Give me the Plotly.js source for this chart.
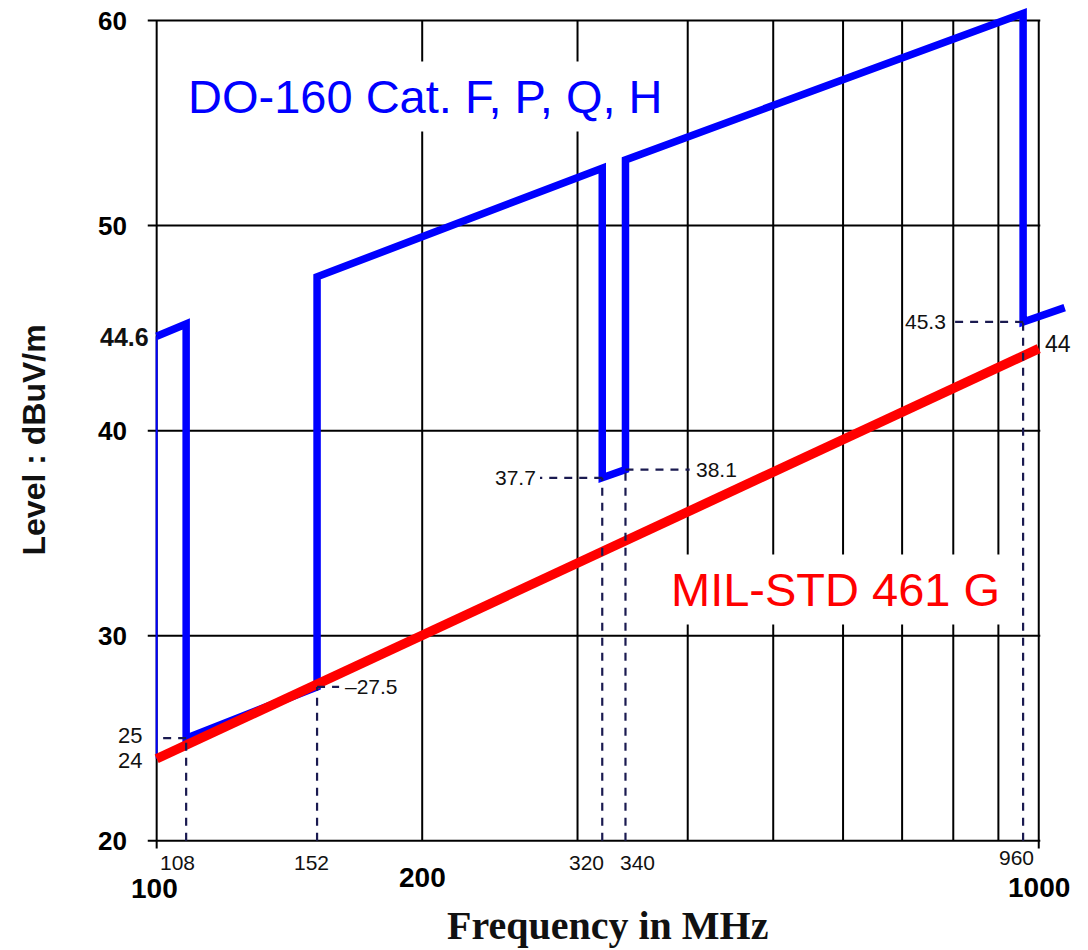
<!DOCTYPE html>
<html><head><meta charset="utf-8">
<script src="https://cdn.plot.ly/plotly-3.0.1.min.js"></script>
<style>html,body{margin:0;padding:0;background:#fff;}#chart{width:1088px;height:950px;}</style>
</head><body><div id="chart"></div>
<script>
// ---- data ----
const gridFreqs = [100, 200, 300, 400, 500, 600, 700, 800, 900, 1000];
const gridLevels = [20, 30, 40, 50, 60];
const blueFreq  = [100, 108, 108, 152, 152, 320, 320, 340, 340, 960, 960, 1070];
const blueLevel = [44.6, 45.2, 25, 27.5, 47.5, 52.8, 37.7, 38.1, 53.2, 60.35, 45.3, 46.0];
const redFreq  = [100, 1000];
const redLevel = [24, 44];
const markFreq  = [108, 152, 320, 340, 960];
const markLevel = [25, 27.5, 37.7, 38.1, 45.3];
const markLabelFreq = [100, 161, 272, 402, 793];
const markLabelText = ['', '–27.5', '37.7', '38.1', '45.3'];
const yTickVals = [20, 30, 40, 50, 60];
const yExtraVals = [44.6, 25, 24];
const yExtraText = ['44.6', '25', '24'];
const xBigVals = [100, 200, 1000];
const xSmallVals = [108, 152, 320, 340, 960];
const endLabelVal = 44;

// ---- label placement (pixels) ----
const xBigShift = [[-2, -47.5], [0, -36.5], [0, -46.5]];
const xSmallShift = [[-9, -21.5], [-6, -21.5], [-16, -21.5], [12, -21.5], [-7, -16.5]];
const yExtraShift = [[-6, -1, true], [-13, 3, false], [-13, -2, false]];

const FONT = 'Liberation Sans, Arial, sans-serif';
const L = Math.log10;

// grid & frame
const gx = [], gy = [];
gridFreqs.forEach((f, i) => {
  const ext = (i === 0 || i === gridFreqs.length - 1);
  gx.push(f, f, null); gy.push(ext ? 19.62 : 20, 60, null);
});
gridLevels.forEach(l => { gx.push(97.7, 1004, null); gy.push(l, l, null); });

// dashed guides
const dx = [], dy = [];
markFreq.forEach((f, i) => {
  dx.push(f, f, null); dy.push(20, markLevel[i], null);
  dx.push(f, markLabelFreq[i], null); dy.push(markLevel[i], markLevel[i], null);
});

const traces = [
  {x: gx, y: gy, mode: 'lines', line: {color: '#000', width: 2}, hoverinfo: 'skip'},
  {x: [blueFreq[0], blueFreq[0]], y: [blueLevel[0], redLevel[0]], mode: 'lines', line: {color: '#0000ff', width: 2}, hoverinfo: 'skip'},
  {x: blueFreq, y: blueLevel, mode: 'lines', line: {color: '#0000ff', width: 7.5}, name: 'DO-160'},
  {x: redFreq, y: redLevel, mode: 'lines', line: {color: '#ff0000', width: 9.5}, name: 'MIL-STD 461 G'},
  {x: dx, y: dy, mode: 'lines', line: {color: '#1a1a50', width: 2.2, dash: '8px,7px'}, hoverinfo: 'skip'}
];

const ann = [];
yTickVals.forEach(v => ann.push({xref: 'x', yref: 'y', x: 2, y: v, xanchor: 'right', yanchor: 'middle',
  xshift: -28, text: '<b>' + v + '</b>', showarrow: false, font: {family: FONT, size: 26, color: '#000'}}));
yExtraVals.forEach((v, i) => ann.push({xref: 'x', yref: 'y', x: 2, y: v, xanchor: 'right', yanchor: 'middle',
  xshift: yExtraShift[i][0], yshift: yExtraShift[i][1],
  text: yExtraShift[i][2] ? '<b>' + yExtraText[i] + '</b>' : yExtraText[i], showarrow: false,
  font: {family: FONT, size: yExtraShift[i][2] ? 25 : 22, color: '#111'}}));
xBigVals.forEach((v, i) => ann.push({xref: 'x', yref: 'y', x: L(v), y: 20, xanchor: 'center', yanchor: 'middle',
  xshift: xBigShift[i][0], yshift: xBigShift[i][1], text: '<b>' + v + '</b>', showarrow: false,
  font: {family: FONT, size: 28, color: '#000'}}));
xSmallVals.forEach((v, i) => ann.push({xref: 'x', yref: 'y', x: L(v), y: 20, xanchor: 'center', yanchor: 'middle',
  xshift: xSmallShift[i][0], yshift: xSmallShift[i][1], text: String(v), showarrow: false,
  font: {family: FONT, size: 21, color: '#111'}}));
markLabelText.forEach((t, i) => {
  if (!t) return;
  const right = markLabelFreq[i] < markFreq[i];
  ann.push({xref: 'x', yref: 'y', x: L(markLabelFreq[i]), y: markLevel[i],
    xanchor: right ? 'right' : 'left', yanchor: 'middle', xshift: right ? -2 : 4,
    text: t, showarrow: false, font: {family: FONT, size: 21, color: '#111'}});
});
ann.push({xref: 'x', yref: 'y', x: 3, y: endLabelVal, xanchor: 'left', yanchor: 'middle', xshift: 4, yshift: 5,
  text: String(endLabelVal), showarrow: false, font: {family: FONT, size: 23, color: '#111'}});

ann.push({xref: 'paper', yref: 'paper', x: 0.0368, y: 0.887, xanchor: 'left', yanchor: 'middle',
  text: 'DO-160 Cat. F, P, Q, H', showarrow: false, bgcolor: '#ffffff', borderpad: 8,
  font: {family: FONT, size: 47, color: '#0000ff'}});
ann.push({xref: 'paper', yref: 'paper', x: 0.559, y: 0.3067, xanchor: 'left', yanchor: 'middle',
  text: 'MIL-STD 461 G', showarrow: false, bgcolor: '#ffffff', borderpad: 8,
  font: {family: FONT, size: 47, color: '#ff0000'}});
ann.push({xref: 'paper', yref: 'paper', x: -0.1205, y: 0.483, xanchor: 'center', yanchor: 'middle',
  text: '<b>Level : dBuV/m</b>', textangle: -90, showarrow: false,
  font: {family: FONT, size: 32, color: '#111'}});
ann.push({xref: 'paper', yref: 'paper', x: 0.4995, y: -0.087, xanchor: 'center', yanchor: 'middle',
  text: '<b>Frequency in MHz</b>', showarrow: false,
  font: {family: 'Liberation Serif, Times New Roman, serif', size: 40, color: '#111'}});

const layout = {
  width: 1088, height: 950,
  margin: {l: 145, r: 18, t: 0, b: 99},
  paper_bgcolor: '#ffffff', plot_bgcolor: '#ffffff',
  showlegend: false,
  xaxis: {type: 'log', range: [L(97), L(1085)], visible: false, showgrid: false, zeroline: false, fixedrange: true},
  yaxis: {range: [19.5, 61], visible: false, showgrid: false, zeroline: false, fixedrange: true},
  annotations: ann
};
Plotly.newPlot('chart', traces, layout, {displayModeBar: false, staticPlot: true});
</script></body></html>
